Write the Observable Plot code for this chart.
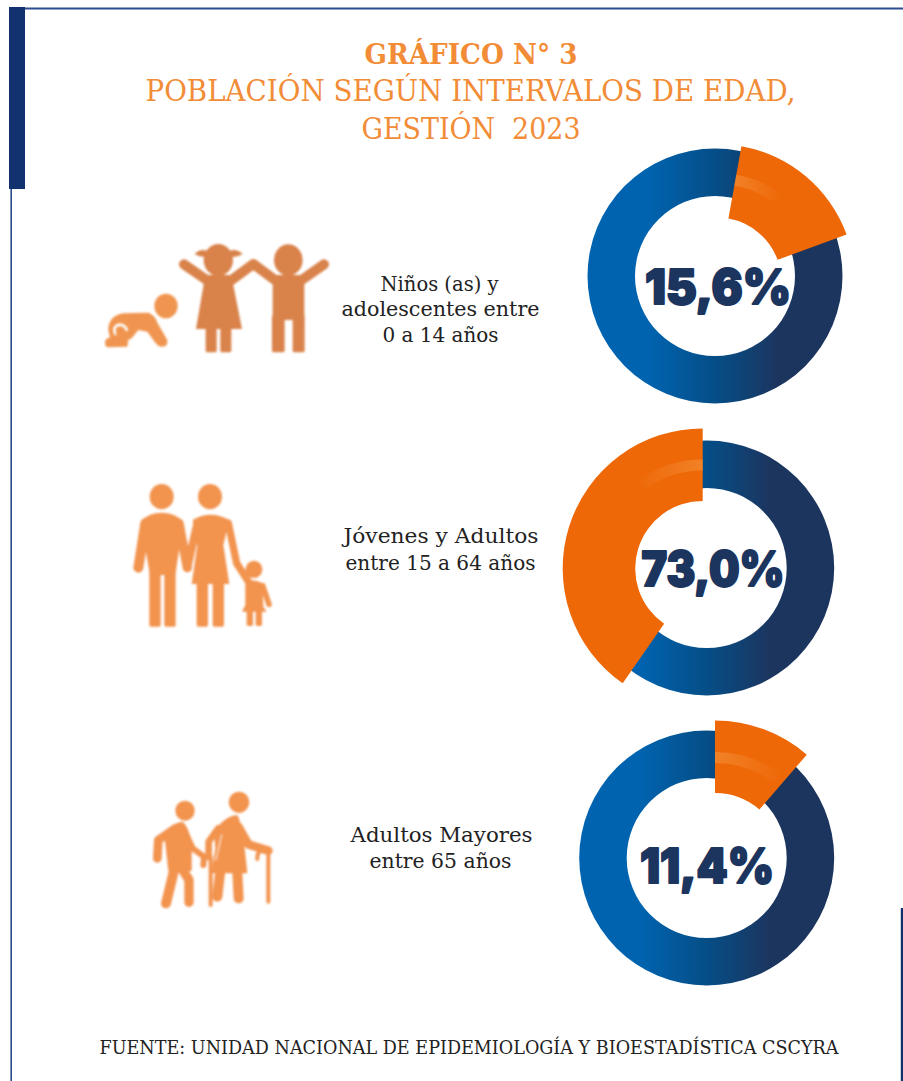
<!DOCTYPE html>
<html lang="es">
<head>
<meta charset="utf-8">
<title>Gráfico N° 3</title>
<script src="https://cdn.jsdelivr.net/npm/d3@7"></script>
<script src="https://cdn.jsdelivr.net/npm/@observablehq/plot@0.6"></script>
<style>
html,body{margin:0;padding:0;background:#fff}
svg{display:block}
</style>
</head>
<body>
<div id="chart"></div>
<script>
// ---- data ----
const categories = ["0 a 14 años", "15 a 64 años", "65 años"];
const shareLabels = ["15,6%", "73,0%", "11,4%"];
// the orange slice as it is drawn, degrees clockwise from north
const sliceStart = [10.2, 214.85, 0];
const sliceEnd = [69.9, 360, 40.8];

const titleLines = ["GRÁFICO N° 3", "POBLACIÓN SEGÚN INTERVALOS DE EDAD,", "GESTIÓN  2023"];
const groupLines = ["Niños (as) y", "adolescentes entre", "0 a 14 años", "Jóvenes y Adultos", "entre 15 a 64 años", "Adultos Mayores", "entre 65 años"];
const sourceLine = "FUENTE: UNIDAD NACIONAL DE EPIDEMIOLOGÍA Y BIOESTADÍSTICA CSCYRA";

// ---- layout (pixels of the page, kept apart from the data) ----
const W = 903, H = 1081;
const ringLayout = [{cx: 715, cy: 276}, {cx: 706.7, cy: 568}, {cx: 706.7, cy: 858}];
const sliceLayout = [
  {cx: 717, cy: 282, r0: 64.5, r1: 138},
  {cx: 702.7, cy: 568.4, r0: 67.5, r1: 140},
  {cx: 715, cy: 861, r0: 68, r1: 140.5}
];
const glossAngles = [[10.2, 35], [324, 360], [0, 36.6]];
const shareLayout = [{x: 717.5, y: 303, w: 146}, {x: 712.5, y: 585.5, w: 143}, {x: 706.5, y: 882.5, w: 134}];
const titleLayout = [
  {x: 470.5, y: 63.3, w: 213},
  {x: 470, y: 100, w: 650},
  {x: 470.5, y: 138.3, w: 219}
];
const groupLayout = [
  {x: 439, y: 290, w: 118}, {x: 440, y: 315.5, w: 198}, {x: 440, y: 341, w: 116},
  {x: 440.5, y: 542, w: 195}, {x: 440, y: 569, w: 190},
  {x: 441, y: 841, w: 182}, {x: 440, y: 867, w: 142}
];

const rings = categories.map((c, i) => ({category: c, ...ringLayout[i]}));
const slices = categories.map((c, i) => ({category: c, a0: sliceStart[i], a1: sliceEnd[i], ...sliceLayout[i]}));
const glosses = categories.map((c, i) => ({
  category: c, cx: sliceLayout[i].cx, cy: sliceLayout[i].cy, a0: glossAngles[i][0], a1: glossAngles[i][1],
  r0: 98, r1: 109, flip: i === 1
}));
const shareRows = shareLabels.map((t, i) => ({text: t, ...shareLayout[i]}));
const titleRows = titleLines.map((t, i) => ({text: t, ...titleLayout[i]}));
const groupRows = groupLines.map((t, i) => ({text: t, ...groupLayout[i]}));
const sourceRows = [{text: sourceLine, x: 468.5, y: 1053, w: 739}];

const rad = d => d * Math.PI / 180;

// arc mark: a dot mark whose rendering is replaced with d3.arc paths at the scaled positions
function arcs(rows, fill) {
  return Plot.dot(rows, {
    x: "cx", y: "cy", r: 1,
    render(index, scales, values) {
      const g = d3.create("svg:g");
      for (const i of index) {
        const d = rows[i];
        g.append("path")
          .attr("transform", `translate(${values.x[i]},${values.y[i]})`)
          .attr("d", d3.arc()({innerRadius: d.r0, outerRadius: d.r1, startAngle: rad(d.a0), endAngle: rad(d.a1)}))
          .attr("fill", typeof fill === "function" ? fill(d) : fill);
      }
      return g.node();
    }
  });
}

// text mark whose lines are fitted to the width measured on the picture
const textMark = (rows, o) => Plot.text(rows, {
  x: "x", y: "y", text: "text", lineAnchor: "bottom", textAnchor: "middle", ...o,
  render(index, scales, values, dims, ctx, next) {
    const g = next(index, scales, values, dims, ctx);
    const nodes = g.querySelectorAll("text");
    index.forEach((k, j) => {
      nodes[j].setAttribute("textLength", rows[k].w);
      nodes[j].setAttribute("lengthAdjust", "spacingAndGlyphs");
      nodes[j].style.whiteSpace = "pre";
    });
    return g;
  }
});

const FRAME = "#2d4c8f", BAR = "#12326f", NAVY = "#1c355f", ORANGE = "#ee6808", TITLE = "#f28c36", INK = "#222222";
const SERIF = "'DejaVu Serif', serif";

const chart = Plot.plot({
  width: W, height: H, margin: 0,
  style: {background: "#fff", overflow: "visible"},
  x: {domain: [0, W], range: [0, W], axis: null},
  y: {domain: [0, H], range: [0, H], axis: null},
  marks: [
    // frame
    Plot.ruleY([8], {x1: 25, x2: W, stroke: FRAME, strokeWidth: 2}),
    Plot.ruleX([10.7], {y1: 189, y2: H, stroke: FRAME, strokeWidth: 1.6}),
    Plot.ruleX([901.5], {y1: 908, y2: H, stroke: BAR, strokeWidth: 2.4}),
    Plot.rect([{x1: 9, x2: 25, y1: 7, y2: 189}], {x1: "x1", x2: "x2", y1: "y1", y2: "y2", fill: BAR}),

    // gradients
    () => {
      const defs = d3.create("svg:defs");
      const ring = defs.append("linearGradient").attr("id", "ringGrad");
      [[0.24, "#0063af"], [0.5, "#054e87"], [0.75, "#1c355f"]].forEach(([o, c]) =>
        ring.append("stop").attr("offset", o).attr("stop-color", c));
      const gl = defs.append("linearGradient").attr("id", "glossR");
      gl.append("stop").attr("offset", 0).attr("stop-color", "#f59a45").attr("stop-opacity", 0.5);
      gl.append("stop").attr("offset", 1).attr("stop-color", "#f59a45").attr("stop-opacity", 0.02);
      const gl2 = defs.append("linearGradient").attr("id", "glossL");
      gl2.append("stop").attr("offset", 0).attr("stop-color", "#f59a45").attr("stop-opacity", 0.02);
      gl2.append("stop").attr("offset", 1).attr("stop-color", "#f59a45").attr("stop-opacity", 0.5);
      return defs.node();
    },

    // donuts
    arcs(rings.map(d => ({...d, a0: 0, a1: 360, r0: 80, r1: 127.5})), "url(#ringGrad)"),
    arcs(slices, ORANGE),
    arcs(glosses, d => d.flip ? "url(#glossL)" : "url(#glossR)"),

    // icons
    () => {
      const g = d3.create("svg:g").attr("aria-label", "icons");
      const solid = (root, d, c) => root.append("path").attr("d", d).attr("fill", c);
      const limb = (root, d, w, c) => root.append("path").attr("d", d).attr("fill", "none")
        .attr("stroke", c).attr("stroke-width", w).attr("stroke-linecap", "round").attr("stroke-linejoin", "round");
      const disc = (root, x, y, rx, ry, c) => root.append("ellipse").attr("cx", x).attr("cy", y).attr("rx", rx).attr("ry", ry).attr("fill", c);
      const leg = (root, x, y, w, h, c) => root.append("rect").attr("x", x).attr("y", y).attr("width", w).attr("height", h).attr("rx", 5).attr("fill", c);

      // children
      const a = g.append("g").attr("transform", "translate(90,230) scale(0.3333)").style("filter", "blur(3px)");
      const baby = "#f0954f", kid = "#d9824a";
      disc(a, 228, 228, 35, 37, baby);
      solid(a, "M55,300 Q55,258 100,250 L175,248 Q195,255 203,280 L232,330 Q234,352 215,350 Q205,350 196,338 L172,305 L145,300 L125,325 L115,330 L112,350 L52,352 Q40,345 48,328 L60,322 Z", baby);
      limb(a, "M76,312 Q66,288 90,284 Q106,286 110,300", 8, "#fff");
      disc(a, 90, 308, 11, 10, baby);
      disc(a, 385, 90, 44, 48, kid);
      solid(a, "M350,62 Q330,56 314,72 Q332,84 352,80 Z", kid);
      solid(a, "M420,62 Q440,56 458,72 Q440,84 420,80 Z", kid);
      limb(a, "M282,103 L350,150 L425,150 L490,102 L555,150 L635,150 L702,103", 30, kid);
      solid(a, "M345,140 L425,140 L456,297 L318,297 Z", kid);
      leg(a, 347, 285, 33, 82, kid);
      leg(a, 391, 285, 33, 82, kid);
      disc(a, 595, 90, 43, 47, kid);
      a.append("rect").attr("x", 548).attr("y", 140).attr("width", 95).attr("height", 130).attr("fill", kid);
      leg(a, 546, 255, 38, 112, kid);
      leg(a, 608, 255, 36, 112, kid);

      // family
      const b = g.append("g").attr("transform", "translate(120,475) scale(0.3333)").style("filter", "blur(3px)");
      const fam = "#f2934e";
      disc(b, 125, 65, 36, 38, fam);
      solid(b, "M62,140 Q85,113 125,113 Q165,113 190,140 L166,300 L90,300 Z", fam);
      limb(b, "M76,145 L55,278", 30, fam);
      limb(b, "M177,145 L202,278", 28, fam);
      leg(b, 88, 280, 34, 175, fam);
      leg(b, 133, 280, 34, 175, fam);
      disc(b, 270, 65, 36, 38, fam);
      solid(b, "M218,135 Q270,103 328,135 L310,210 L328,327 L215,327 L232,210 Z", fam);
      limb(b, "M232,145 L202,278", 24, fam);
      limb(b, "M325,145 L350,265 L392,330", 22, fam);
      leg(b, 230, 315, 34, 140, fam);
      leg(b, 278, 315, 34, 140, fam);
      disc(b, 402, 283, 25, 26, fam);
      solid(b, "M376,325 Q400,308 427,325 L430,395 L440,410 L366,410 L376,390 Z", fam);
      limb(b, "M428,332 L447,388", 17, fam);
      leg(b, 380, 400, 19, 53, fam);
      leg(b, 407, 400, 19, 53, fam);

      // elders
      const c = g.append("g").attr("transform", "translate(140,785) scale(0.3333)").style("filter", "blur(3px)");
      disc(c, 135, 77, 29, 30, fam);
      solid(c, "M72,140 Q100,112 128,110 Q145,125 155,170 L155,258 L85,258 Z", fam);
      limb(c, "M85,145 L55,165 L52,220", 26, fam);
      limb(c, "M135,140 L158,190 L192,215 L190,240", 18, fam);
      limb(c, "M105,245 L78,355", 30, fam);
      limb(c, "M125,250 L147,285 L147,352", 28, fam);
      disc(c, 297, 52, 31, 32, fam);
      solid(c, "M222,140 Q255,92 292,90 Q308,115 322,265 L214,265 L226,190 Z", fam);
      limb(c, "M295,125 L325,178 L385,197", 26, fam);
      limb(c, "M352,222 Q350,190 385,197 L385,350", 12, fam);
      limb(c, "M235,130 L206,170 L206,215", 20, fam);
      limb(c, "M212,215 L212,360", 12, fam);
      limb(c, "M240,265 L232,335", 30, fam);
      limb(c, "M292,265 L296,340", 30, fam);
      limb(c, "M245,150 L228,225", 3, "#fff");
      return g.node();
    },

    // share labels
    textMark(shareRows, {fontFamily: "Inter, sans-serif", fontWeight: 900, fontSize: 48, fill: NAVY, stroke: NAVY, strokeWidth: 2}),
    // title
    textMark(titleRows.slice(0, 1), {fontFamily: SERIF, fontWeight: 700, fontSize: 28, fill: TITLE}),
    textMark(titleRows.slice(1), {fontFamily: SERIF, fontSize: 30, fill: TITLE}),
    // group labels
    textMark(groupRows, {fontFamily: SERIF, fontSize: 21, fill: INK}),
    // source
    textMark(sourceRows, {fontFamily: SERIF, fontSize: 18, fill: INK})
  ]
});
document.getElementById("chart").appendChild(chart);
</script>
</body>
</html>
